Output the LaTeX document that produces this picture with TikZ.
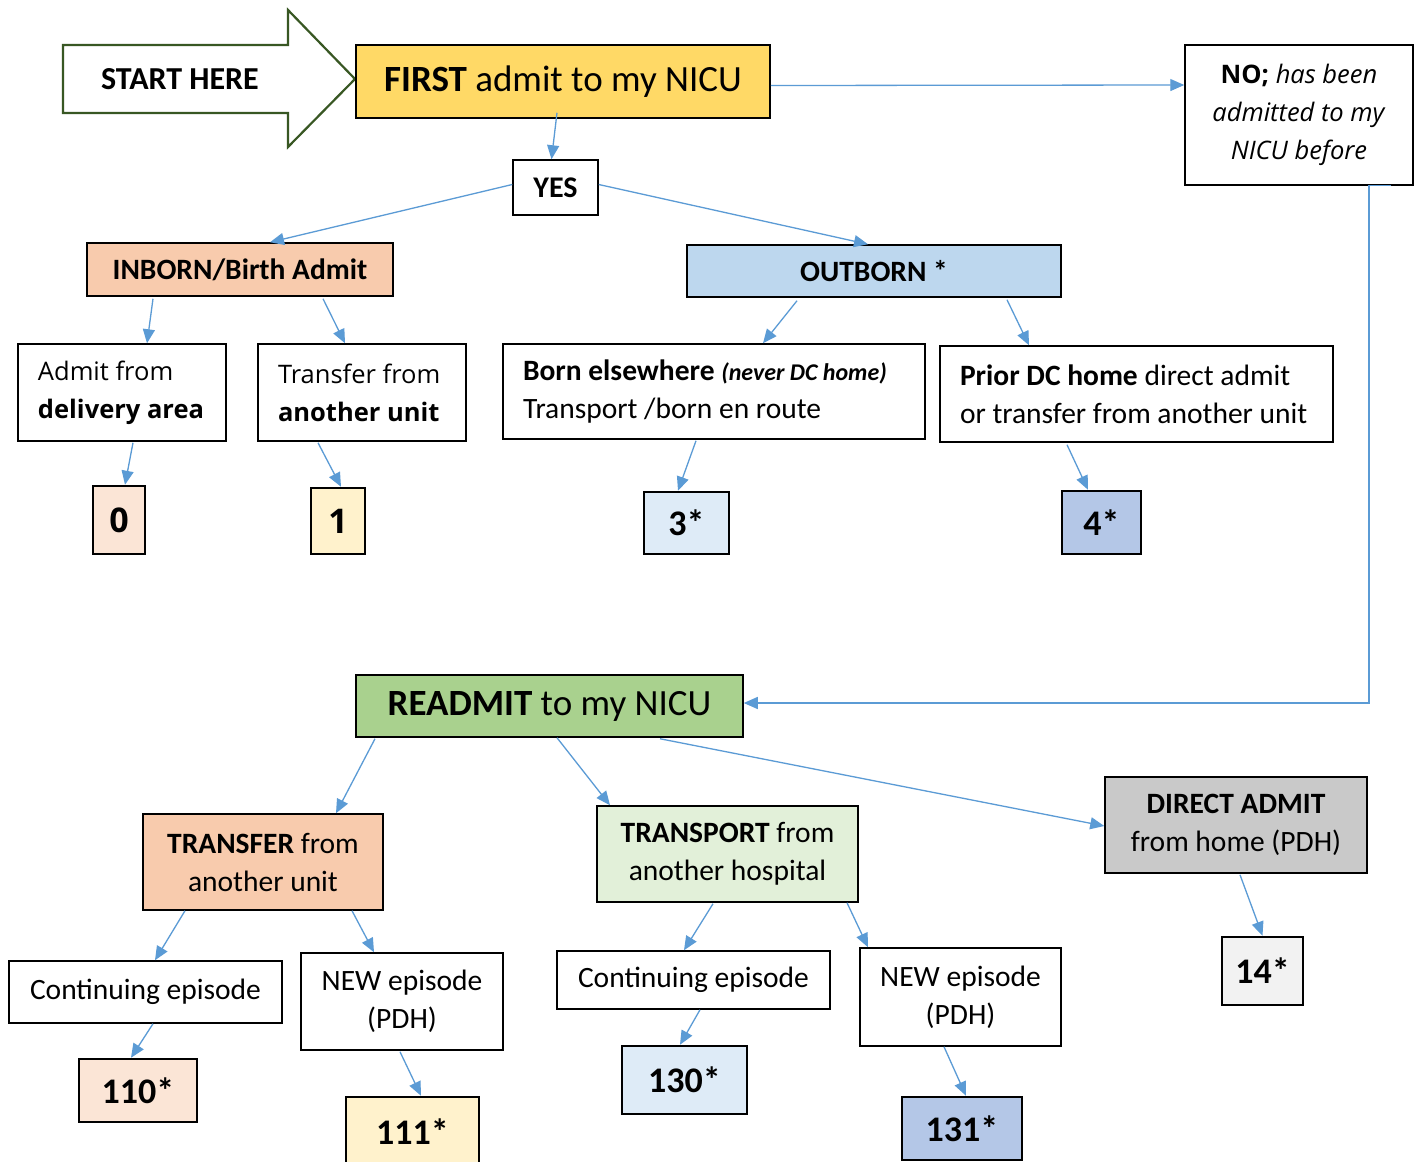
\documentclass[tikz,border=0pt]{standalone}
\usepackage{fontspec}
\setmainfont{Carlito}
\newfontfamily\osans{Open Sans}
\usetikzlibrary{arrows.meta,calc}
\definecolor{cFirst}{HTML}{FFD966}
\definecolor{cPeach}{HTML}{F8CBAD}
\definecolor{cOut}{HTML}{BDD7EE}
\definecolor{cRead}{HTML}{A9D18E}
\definecolor{cTrans}{HTML}{E2F0D9}
\definecolor{cDirect}{HTML}{C9C9C9}
\definecolor{cZero}{HTML}{FBE5D6}
\definecolor{cOne}{HTML}{FFF2CC}
\definecolor{cThree}{HTML}{DEEBF7}
\definecolor{cFour}{HTML}{B4C7E7}
\definecolor{cFourteen}{HTML}{F2F2F2}
\definecolor{cBlue}{HTML}{5B9BD5}
\definecolor{cGreen}{HTML}{385723}
\newcommand\fbody{\fontsize{14.75}{19}\selectfont}
\newcommand\ftitle{\fontsize{18.5}{22}\selectfont}
\newcommand\fnum{\fontsize{18}{22}\selectfont\bfseries}
\newcommand\fos{\osans\fontsize{12.75}{19}\selectfont}
\tikzset{
  bb/.style args={#1/#2/#3/#4}{minimum width={(#3-#1)*0.5pt}, minimum height={(#4-#2)*0.5pt}, at={({(#1+#3)/2},{(#2+#4)/2})}},
  box/.style={draw=black, line width=0.75pt, inner sep=0pt, align=center, font=\fbody},
  lbox/.style={box, align=flush left},
  numbox/.style={draw=black, line width=1.25pt, inner sep=0pt, align=center, font=\fnum},
  conn/.style={draw=cBlue, line width=0.65pt, -{Triangle[length=7pt,width=6pt]}},
}
\begin{document}
\begin{tikzpicture}[x=0.5pt,y=-0.5pt]
\useasboundingbox (0,0) rectangle (1421,1162);
\fill[white] (0,0) rectangle (1421,1162);

% start arrow
\draw[cGreen, line width=1.1pt, fill=white, line join=miter]
  (63,45) -- (288,45) -- (288,10) -- (355,79) -- (288,147) -- (288,113) -- (63,113) -- cycle;
\node[font=\fontsize{16}{19}\selectfont\bfseries] (start) at (180,79) {START HERE};

% top boxes
\node[box, fill=cFirst, font=\ftitle, bb=356/45/770/118] (first) {\textbf{FIRST} admit to my NICU};
\node[box, font=\fos, bb=1185/45/1413/185] (no) {\textbf{NO;} \textit{has been}\\\textit{admitted to my}\\\textit{NICU before}};
\node[box, font=\fontsize{15}{19}\selectfont\bfseries, bb=513/160/598/215] (yes) {YES};

\node[box, fill=cPeach, font=\fbody\bfseries, bb=87/243/393/296] (inborn) {INBORN/Birth Admit};
\node[box, fill=cOut, font=\fbody\bfseries, bb=687/245/1061/297] (outborn) {OUTBORN *};

\node[lbox, font=\fos, text width=84pt, bb=18/344/226/441] (admit) {\mbox{Admit from}\\\mbox{\textbf{delivery area}}};
\node[lbox, font=\fos, text width=84pt, bb=258/344/466/441] (transfer) {\mbox{Transfer from}\\\mbox{\textbf{another unit}}};
\node[lbox, text width=191pt, bb=503/344/925/439] (born) {\mbox{\textbf{Born elsewhere} \textbf{\textit{\fontsize{12}{19}\selectfont(never DC home)}}}\\\mbox{Transport /born en route}};
\node[lbox, text width=176.5pt, bb=940/346/1333/442] (prior) {\mbox{\textbf{Prior DC home} direct admit}\\\mbox{or transfer from another unit}};

\node[numbox, fill=cZero, font=\osans\fontsize{17}{20}\selectfont\bfseries, bb=93/486/145/554] (n0) {0};
\node[numbox, fill=cOne, font=\osans\fontsize{17}{20}\selectfont\bfseries, bb=311/488/365/554] (n1) {1};
\node[numbox, fill=cThree, bb=644/492/729/554] (n3) {3*};
\node[numbox, fill=cFour, bb=1062/491/1141/554] (n4) {4*};

% readmit part
\node[box, fill=cRead, font=\ftitle, bb=356/675/743/737] (readmit) {\textbf{READMIT} to my NICU};
\node[box, fill=cPeach, bb=143/814/383/910] (rtransfer) {\textbf{TRANSFER} from\\another unit};
\node[box, fill=cTrans, bb=597/806/858/902] (rtransport) {\textbf{TRANSPORT} from\\another hospital};
\node[box, fill=cDirect, bb=1105/777/1367/873] (direct) {\textbf{DIRECT ADMIT}\\from home (PDH)};

\node[box, bb=9/961/282/1023] (cont1) {Continuing episode};
\node[box, bb=301/953/503/1050] (new1) {NEW episode\\(PDH)};
\node[box, bb=557/951/830/1009] (cont2) {Continuing episode};
\node[box, bb=860/948/1061/1046] (new2) {NEW episode\\(PDH)};

\node[numbox, fill=cZero, bb=79/1059/197/1122] (n110) {110*};
\node[numbox, fill=cOne, bb=346/1097/479/1166] (n111) {111*};
\node[numbox, fill=cThree, bb=622/1046/747/1114] (n130) {130*};
\node[numbox, fill=cFour, bb=902/1097/1022/1160] (n131) {131*};
\node[numbox, fill=cFourteen, bb=1222/937/1303/1005] (n14) {14*};

% connectors
\draw[conn] ([shift={(-6,-6)}]first.south) -- ([shift={(-4,0)}]yes.north);
\draw[conn] ([shift={(0,4)}]first.east) -- ([shift={(0,-30)}]no.west);
\draw[conn] ([shift={(92,0)}]no.south) -- ([shift={(70,0)}]no.south) |- ([shift={(0,-3)}]readmit.east);
\draw[conn] ([shift={(0,-3)}]yes.west) -- ([shift={(30,0)}]inborn.north);
\draw[conn] ([shift={(0,-3)}]yes.east) -- ([shift={(-6,0)}]outborn.north);

\draw[conn] ([shift={(-87,2)}]inborn.south) -- ([shift={(25,0)}]admit.north);
\draw[conn] ([shift={(83,2)}]inborn.south) -- ([shift={(-17,0)}]transfer.north);
\draw[conn] ([shift={(11,1)}]admit.south) -- ([shift={(6,0)}]n0.north);
\draw[conn] ([shift={(-44,1)}]transfer.south) -- ([shift={(3,0)}]n1.north);

\draw[conn] ([shift={(-77,3)}]outborn.south) -- ([shift={(49,0)}]born.north);
\draw[conn] ([shift={(133,2)}]outborn.south) -- ([shift={(-107.5,0)}]prior.north);
\draw[conn] ([shift={(-18,1)}]born.south) -- ([shift={(-8.5,0)}]n3.north);
\draw[conn] ([shift={(-69.5,2)}]prior.south) -- ([shift={(-13.5,0)}]n4.north);

\draw[conn] ([shift={(-174.5,1)}]readmit.south) -- ([shift={(73,0)}]rtransfer.north);
\draw[conn] ([shift={(7.5,0)}]readmit.south) -- ([shift={(-117.5,0)}]rtransport.north);
\draw[conn] ([shift={(110.5,1)}]readmit.south) -- ([shift={(0,1)}]direct.west);

\draw[conn] ([shift={(-78,0)}]rtransfer.south) -- ([shift={(9.5,0)}]cont1.north);
\draw[conn] ([shift={(89,0)}]rtransfer.south) -- ([shift={(-28,0)}]new1.north);
\draw[conn] ([shift={(7.5,0)}]cont1.south) -- ([shift={(-7,0)}]n110.north);
\draw[conn] ([shift={(-2,1)}]new1.south) -- ([shift={(8.5,0)}]n111.north);

\draw[conn] ([shift={(-14.5,1)}]rtransport.south) -- ([shift={(-9.5,0)}]cont2.north);
\draw[conn] ([shift={(119.5,0)}]rtransport.south) -- ([shift={(-92.5,0)}]new2.north);
\draw[conn] ([shift={(6.5,0)}]cont2.south) -- ([shift={(-4.5,0)}]n130.north);
\draw[conn] ([shift={(-16.5,0)}]new2.south) -- ([shift={(4,0)}]n131.north);

\draw[conn] ([shift={(4,1)}]direct.south) -- (n14.north);
\end{tikzpicture}
\end{document}
